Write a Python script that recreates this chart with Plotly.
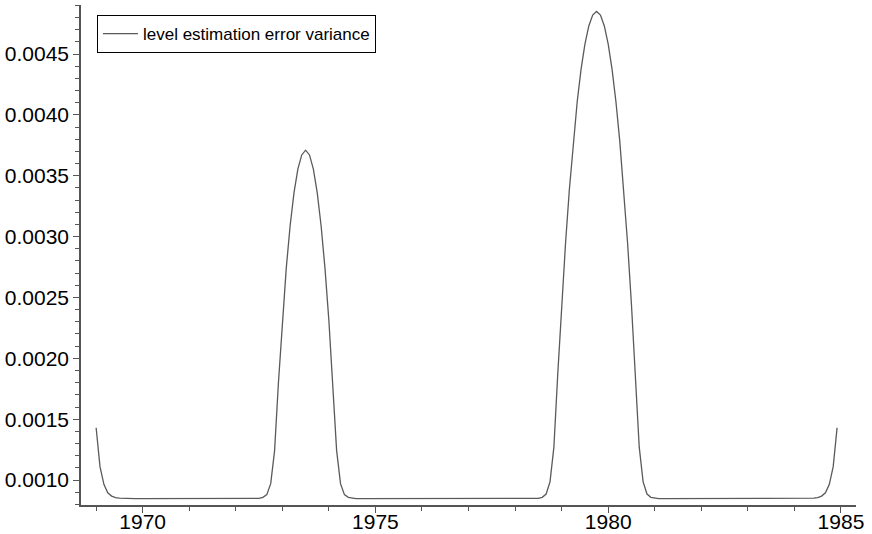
import numpy as np
import plotly.graph_objects as go

# Monthly observations, January 1969 .. December 1984
start_year = 1969
n_months = 192
years = start_year + np.arange(n_months) / 12.0

variance_1969 = [0.001430, 0.001110, 0.000965, 0.000895, 0.000868, 0.000856, 0.000851, 0.000849, 0.000848, 0.000848, 0.000848, 0.000848]
variance_1970 = [0.000848, 0.000848, 0.000848, 0.000848, 0.000848, 0.000848, 0.000848, 0.000848, 0.000848, 0.000848, 0.000848, 0.000848]
variance_1971 = [0.000848, 0.000848, 0.000848, 0.000848, 0.000848, 0.000848, 0.000848, 0.000848, 0.000848, 0.000848, 0.000848, 0.000848]
variance_1972 = [0.000848, 0.000848, 0.000848, 0.000848, 0.000848, 0.000848, 0.000850, 0.000858, 0.000880, 0.000970, 0.001240, 0.001803]
variance_1973 = [0.002309, 0.002737, 0.003087, 0.003360, 0.003554, 0.003671, 0.003710, 0.003671, 0.003554, 0.003360, 0.003087, 0.002737]
variance_1974 = [0.002309, 0.001803, 0.001240, 0.000970, 0.000880, 0.000858, 0.000850, 0.000848, 0.000848, 0.000848, 0.000848, 0.000848]
variance_1975 = [0.000848, 0.000848, 0.000848, 0.000848, 0.000848, 0.000848, 0.000848, 0.000848, 0.000848, 0.000848, 0.000848, 0.000848]
variance_1976 = [0.000848, 0.000848, 0.000848, 0.000848, 0.000848, 0.000848, 0.000848, 0.000848, 0.000848, 0.000848, 0.000848, 0.000848]
variance_1977 = [0.000848, 0.000848, 0.000848, 0.000848, 0.000848, 0.000848, 0.000848, 0.000848, 0.000848, 0.000848, 0.000848, 0.000848]
variance_1978 = [0.000848, 0.000848, 0.000848, 0.000848, 0.000848, 0.000848, 0.000850, 0.000858, 0.000885, 0.000985, 0.001270, 0.001873]
variance_1979 = [0.002438, 0.002945, 0.003391, 0.003778, 0.004106, 0.004374, 0.004582, 0.004731, 0.004820, 0.004850, 0.004820, 0.004731]
variance_1980 = [0.004582, 0.004374, 0.004106, 0.003778, 0.003391, 0.002945, 0.002438, 0.001873, 0.001270, 0.000985, 0.000885, 0.000858]
variance_1981 = [0.000850, 0.000848, 0.000848, 0.000848, 0.000848, 0.000848, 0.000848, 0.000848, 0.000848, 0.000848, 0.000848, 0.000848]
variance_1982 = [0.000848, 0.000848, 0.000848, 0.000848, 0.000848, 0.000848, 0.000848, 0.000848, 0.000848, 0.000848, 0.000848, 0.000848]
variance_1983 = [0.000848, 0.000848, 0.000848, 0.000848, 0.000848, 0.000848, 0.000848, 0.000848, 0.000848, 0.000848, 0.000848, 0.000848]
variance_1984 = [0.000848, 0.000848, 0.000848, 0.000848, 0.000849, 0.000851, 0.000856, 0.000868, 0.000895, 0.000965, 0.001110, 0.001430]

level_variance = (variance_1969 + variance_1970 + variance_1971 + variance_1972 +
                  variance_1973 + variance_1974 + variance_1975 + variance_1976 +
                  variance_1977 + variance_1978 + variance_1979 + variance_1980 +
                  variance_1981 + variance_1982 + variance_1983 + variance_1984)

x_tick_values = [1970, 1975, 1980, 1985]
y_tick_values = [0.0010, 0.0015, 0.0020, 0.0025, 0.0030, 0.0035, 0.0040, 0.0045]
series_name = "level estimation error variance"

axis_color = "#555555"
font_family = "Liberation Sans, Arial, Helvetica, sans-serif"

fig = go.Figure()
fig.add_trace(go.Scatter(
    x=years, y=level_variance, mode="lines", name=series_name,
    line=dict(color="#5a5a5a", width=1.3),
))

fig.update_layout(
    width=872, height=534,
    margin=dict(l=81, r=16, t=5, b=29, autoexpand=False),
    paper_bgcolor="white", plot_bgcolor="white",
    font=dict(family=font_family, size=21, color="black"),
    showlegend=True,
    legend=dict(
        x=0.0206, y=0.98, xanchor="left", yanchor="top",
        bordercolor="black", borderwidth=1, bgcolor="white",
        font=dict(size=17, color="black"),
        tracegroupgap=0, itemwidth=35,
    ),
)

fig.update_xaxes(
    automargin=False,
    range=[1968.675, 1985.323],
    tickmode="array", tickvals=x_tick_values,
    ticktext=[str(v) for v in x_tick_values],
    ticks="outside", ticklen=6, tickwidth=1.2, tickcolor=axis_color,
    ticklabelstandoff=-9,
    showline=True, linecolor=axis_color, linewidth=1.5,
    showgrid=False, zeroline=False,
    minor=dict(dtick=1, tick0=1969, ticks="outside", ticklen=4, tickwidth=1, tickcolor=axis_color, showgrid=False),
    tickfont=dict(size=21, color="black"),
)
fig.update_yaxes(
    automargin=False,
    range=[0.000795, 0.004903],
    tickmode="array", tickvals=y_tick_values,
    ticktext=["%.4f" % v for v in y_tick_values],
    ticks="outside", ticklen=6, tickwidth=1.2, tickcolor=axis_color,
    showline=True, linecolor=axis_color, linewidth=1.5,
    showgrid=False, zeroline=False,
    minor=dict(dtick=0.0001, tick0=0.0, ticks="outside", ticklen=4, tickwidth=1, tickcolor=axis_color, showgrid=False),
    tickfont=dict(size=21, color="black"),
)

fig.write_html(
    "out.html",
    config={"displayModeBar": False},
    post_script="document.body.style.margin='0px';document.body.style.padding='0px';",
)
